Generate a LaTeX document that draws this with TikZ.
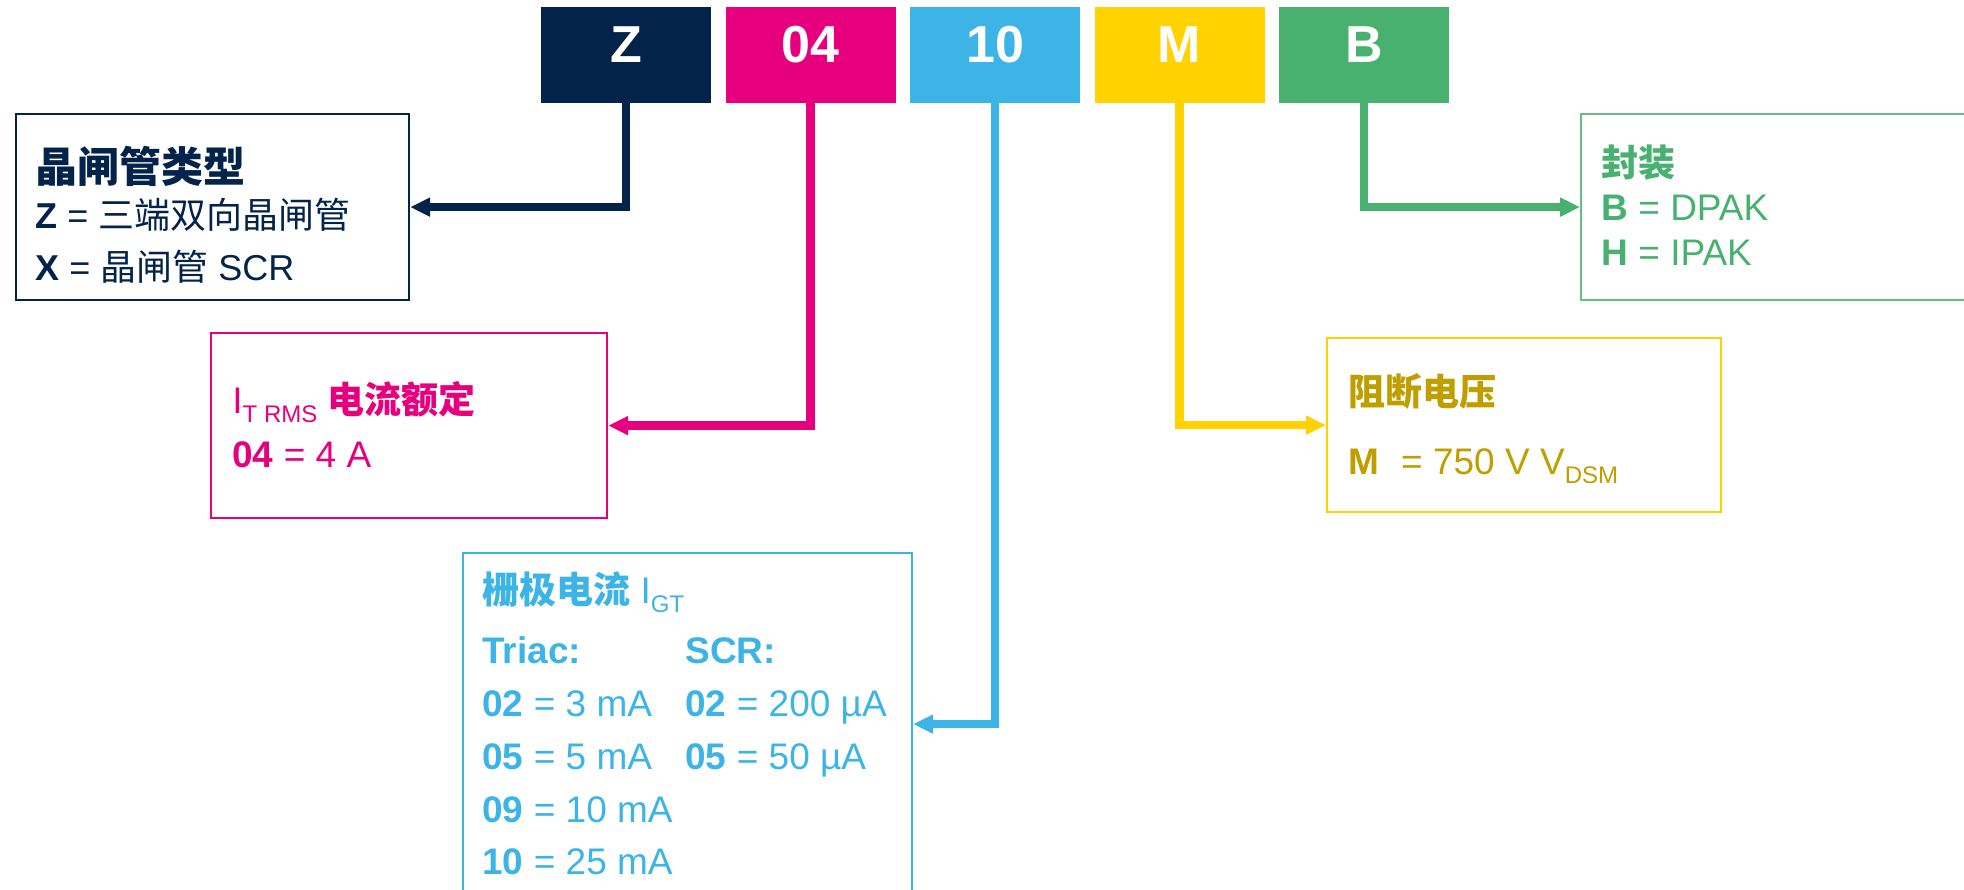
\documentclass[tikz,border=0pt]{standalone}
\usepackage{fontspec}
\setmainfont{Liberation Sans}
\newfontfamily\cjk{Noto Sans CJK SC}
\usetikzlibrary{arrows.meta}
\definecolor{stnavy}{HTML}{03234B}
\definecolor{stpink}{HTML}{E6007E}
\definecolor{stblue}{HTML}{3CB4E6}
\definecolor{styellow}{HTML}{FFD200}
\definecolor{stgold}{HTML}{BF9F00}
\definecolor{stgreen}{HTML}{49B170}
\newcommand\subtx[1]{\raisebox{-0.25em}{\scalebox{0.65}{#1}}}
\begin{document}
\begin{tikzpicture}[x=0.5pt,y=-0.5pt,
  codebox/.style={fill=#1, draw=none, minimum width=85pt, minimum height=48pt,
    inner sep=0pt, text=white, font=\fontsize{26}{30}\selectfont\bfseries,
    text height=0.72em, text depth=0pt},
  infobox/.style={draw=#1, line width=1.1pt, anchor=north west, inner sep=0pt},
  conn/.style={draw=#1, line width=4.2pt, -{Triangle[length=10pt,width=9pt]}},
  txt/.style={anchor=base west, inner sep=0pt, text=#1, font=\fontsize{18.5}{22}\selectfont},
]
\useasboundingbox (0,0) rectangle (1964,889);

% code boxes
\node[codebox=stnavy]   (cz) at (626,55)    {Z};
\node[codebox=stpink]   (cp) at (810.5,55)  {04};
\node[codebox=stblue]   (cb) at (995,55)    {10};
\node[codebox=styellow] (cy) at (1179.5,55) {M};
\node[codebox=stgreen]  (cg) at (1364,55)   {B};

% info boxes
\node[infobox=stnavy, minimum width=196.5pt, minimum height=93pt] (bz) at (15,113) {};
\node[infobox=stpink, minimum width=198pt, minimum height=92.5pt] (bp) at (210,332) {};
\node[infobox=stblue, minimum width=224.5pt, minimum height=171pt] (bb) at (462,552) {};
\node[infobox=styellow, minimum width=197pt, minimum height=87pt] (by) at (1326,337) {};
\node[infobox=stgreen!85, minimum width=200pt, minimum height=93pt] (bg) at (1580,113) {};

% connectors
\draw[conn=stnavy] (cz.south) |- (bz.east);
\draw[conn=stpink] (cp.south) |- (bp.east);
\draw[conn=stblue] (cb.south) |- (bb.east);
\draw[conn=styellow] (cy.south) |- (by.west);
\draw[conn=stgreen] (cg.south) |- (bg.west);

% navy texts
\node[txt=stnavy, font=\fontsize{21}{25}\selectfont] (zh) at (35,182) {\cjk\bfseries 晶闸管类型};
\node[txt=stnavy, font=\fontsize{18}{22}\selectfont] (za) at (35,228) {\textbf{Z} = {\cjk 三端双向晶闸管}};
\node[txt=stnavy, font=\fontsize{18}{22}\selectfont] (zb) at (35,280) {\textbf{X} = {\cjk 晶闸管} SCR};

% pink texts
\node[txt=stpink] (ph) at (232,413) {I\subtx{T RMS} {\cjk\bfseries 电流额定}};
\node[txt=stpink] (pa) at (232,467) {\textbf{04} = 4 A};

% blue texts
\node[txt=stblue] (bh) at (482,603) {{\cjk\bfseries 栅极电流} I\subtx{GT}};
\node[txt=stblue] (b1) at (482,663) {\textbf{Triac:}};
\node[txt=stblue] (b2) at (685,663) {\textbf{SCR:}};
\node[txt=stblue] (b3) at (482,716) {\textbf{02} = 3 mA};
\node[txt=stblue] (b4) at (685,716) {\textbf{02} = 200 µA};
\node[txt=stblue] (b5) at (482,769) {\textbf{05} = 5 mA};
\node[txt=stblue] (b6) at (685,769) {\textbf{05} = 50 µA};
\node[txt=stblue] (b7) at (482,822) {\textbf{09} = 10 mA};
\node[txt=stblue] (b8) at (482,874) {\textbf{10} = 25 mA};

% yellow texts
\node[txt=stgold] (yh) at (1348,405) {\cjk\bfseries 阻断电压};
\node[txt=stgold] (ya) at (1348,474) {\textbf{M}\hspace{11pt}= 750 V V\subtx{DSM}};

% green texts
\node[txt=stgreen] (gh) at (1601,176) {\cjk\bfseries 封装};
\node[txt=stgreen] (ga) at (1601,220) {\textbf{B} = DPAK};
\node[txt=stgreen] (gb) at (1601,265) {\textbf{H} = IPAK};
\end{tikzpicture}
\end{document}
